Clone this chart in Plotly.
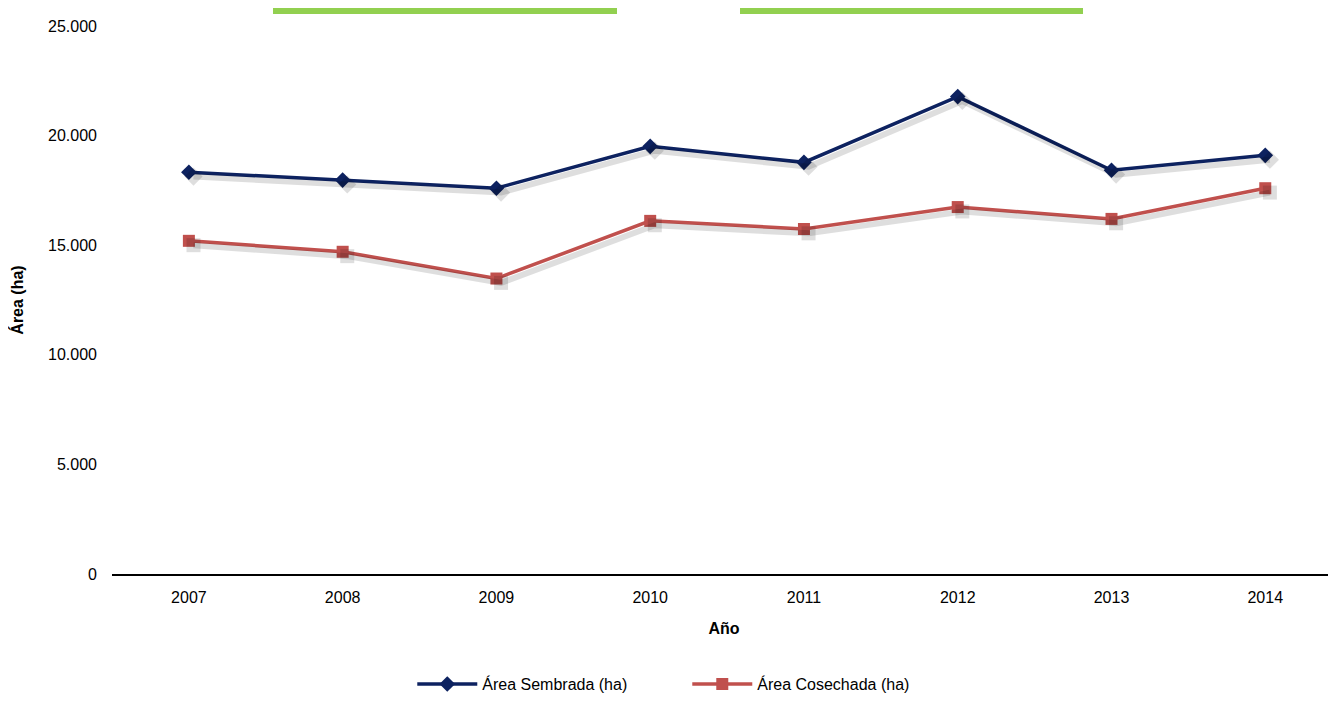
import plotly.graph_objects as go

years = ["2007","2008","2009","2010","2011","2012","2013","2014"]
sembrada = [18330, 17970, 17600, 19510, 18780, 21780, 18420, 19100]
cosechada = [15200, 14700, 13480, 16110, 15740, 16740, 16200, 17600]

fig = go.Figure()
# shadows
for vals, sym in [(sembrada, "diamond"), (cosechada, "square")]:
    fig.add_trace(go.Scatter(x=[i + 0.03 for i in range(8)], y=[v - 200 for v in vals],
        mode="lines+markers", line=dict(color="rgba(0,0,0,0.13)", width=6),
        marker=dict(symbol=sym, size=14, color="rgba(0,0,0,0.13)"),
        showlegend=False, hoverinfo="skip", xaxis="x2"))
fig.add_trace(go.Scatter(x=years, y=sembrada, name="Área Sembrada (ha)", mode="lines+markers",
    line=dict(color="#0d2260", width=3.5), marker=dict(symbol="diamond", size=12, color="#0d2260")))
fig.add_trace(go.Scatter(x=years, y=cosechada, name="Área Cosechada (ha)", mode="lines+markers",
    line=dict(color="#c0504d", width=3.5), marker=dict(symbol="square", size=12, color="#c0504d")))

fig.update_layout(
    width=1336, height=701, plot_bgcolor="white", paper_bgcolor="white",
    margin=dict(l=104, r=8, t=18, b=126),
    font=dict(family="Liberation Sans, Arial", size=16, color="black"),
    xaxis=dict(type="category", range=[-0.5, 7.46], showline=True, linecolor="black", linewidth=2,
               ticks="", automargin=False, ticklabelstandoff=8,
               title=dict(text="<b>Año</b>", font=dict(size=16), standoff=18), showgrid=False),
    xaxis2=dict(range=[-0.5, 7.46], overlaying="x", visible=False),
    yaxis=dict(range=[0, 25000], tickvals=[0,5000,10000,15000,20000,25000],
               ticktext=["0","5.000","10.000","15.000","20.000","25.000"], showgrid=False,
               ticks="", ticklabelstandoff=14, automargin=False,
               title=dict(text="<b>Área (ha)</b>", font=dict(size=16), standoff=22), zeroline=False),
    legend=dict(orientation="h", x=0.47, xanchor="center", y=-0.17, yanchor="top", font=dict(size=16),
                itemwidth=60, tracegroupgap=0, entrywidth=200),
    shapes=[
        dict(type="rect", xref="paper", yref="paper", x0=(273-112)/1224, x1=(617-112)/1224,
             y0=1.022, y1=1.2, fillcolor="#92d050", line=dict(width=0), layer="above"),
        dict(type="rect", xref="paper", yref="paper", x0=(740-112)/1224, x1=(1083-112)/1224,
             y0=1.022, y1=1.2, fillcolor="#92d050", line=dict(width=0), layer="above"),
    ],
)
fig.write_html("out.html")
